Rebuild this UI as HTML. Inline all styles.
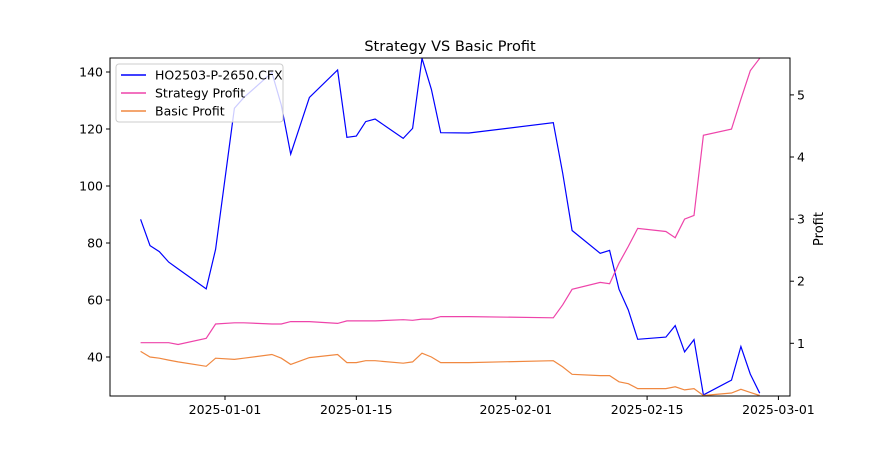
<!DOCTYPE html>
<html><head><meta charset="utf-8"><style>
body{margin:0;background:#fff;}
svg{font-family:"DejaVu Sans","Liberation Sans",sans-serif;}
</style></head><body>
<svg id="chart" width="878" height="450" xmlns="http://www.w3.org/2000/svg"></svg>
<script>
const dates=["2024-12-23","2024-12-24","2024-12-25","2024-12-26","2024-12-27","2024-12-30","2024-12-31","2025-01-02","2025-01-03","2025-01-06","2025-01-07","2025-01-08","2025-01-10","2025-01-13","2025-01-14","2025-01-15","2025-01-16","2025-01-17","2025-01-20","2025-01-21","2025-01-22","2025-01-23","2025-01-24","2025-01-27","2025-02-05","2025-02-06","2025-02-07","2025-02-10","2025-02-11","2025-02-12","2025-02-13","2025-02-14","2025-02-17","2025-02-18","2025-02-19","2025-02-20","2025-02-21","2025-02-24","2025-02-25","2025-02-26","2025-02-27"];
const optionPrice=[88.3,79.1,77,73.3,70.9,63.9,77.8,127.3,131,139.8,128.4,111.2,131.1,140.7,117.1,117.5,122.6,123.5,116.7,120.2,144.8,133.9,118.7,118.6,122.2,104.5,84.4,76.4,77.4,63.8,56.5,46.2,47,51,41.8,46.1,26.7,31.9,43.7,34,27.3];
const strategyProfit=[1.01,1.01,1.01,1.01,0.98,1.08,1.31,1.33,1.33,1.31,1.31,1.35,1.35,1.32,1.36,1.36,1.36,1.36,1.38,1.37,1.39,1.39,1.43,1.43,1.41,1.62,1.87,1.98,1.96,2.29,2.56,2.85,2.80,2.70,3.0,3.06,4.35,4.45,4.93,5.39,5.59];
const basicProfit=[0.87,0.78,0.76,0.73,0.70,0.63,0.76,0.74,0.76,0.82,0.76,0.66,0.77,0.82,0.69,0.69,0.72,0.72,0.68,0.70,0.84,0.78,0.69,0.69,0.72,0.62,0.50,0.48,0.48,0.38,0.35,0.27,0.27,0.30,0.25,0.27,0.16,0.20,0.26,0.21,0.16];
const leftTicks=[40,60,80,100,120,140];
const rightTicks=[1,2,3,4,5];
const xTickLabels=["2025-01-01","2025-01-15","2025-02-01","2025-02-15","2025-03-01"];

const NS="http://www.w3.org/2000/svg";
const svg=document.getElementById('chart');
const L=110,R=790,T=58,B=396;
const base=Date.UTC(2025,0,1);
function dayOf(s){const p=s.split('-');return (Date.UTC(+p[0],p[1]-1,+p[2])-base)/86400000;}
function xs(s){return 225+9.38*dayOf(s);}
function yl(v){return 357-(v-40)*2.85;}
function yr(v){return 405.4-v*62.1;}
function mk(tag,attrs,parent){const e=document.createElementNS(NS,tag);for(const k in attrs)e.setAttribute(k,attrs[k]);(parent||svg).appendChild(e);return e;}

const title=mk('text',{x:450,y:51,'text-anchor':'middle','font-size':14.5,fill:'#000'});
title.textContent='Strategy VS Basic Profit';



function line(vals,fy,color,name){
  const pts=vals.map((v,i)=>xs(dates[i]).toFixed(1)+','+fy(v).toFixed(1)).join(' ');
  const p=mk('polyline',{points:pts,fill:'none',stroke:color,'stroke-width':1.2});
  
  
}
line(optionPrice,yl,'#0000ff','option-price-line');
line(strategyProfit,yr,'#ee44aa','strategy-profit-line');
line(basicProfit,yr,'#f08840','basic-profit-line');

const frame=mk('rect',{x:L,y:T,width:R-L,height:B-T,fill:'none',stroke:'#000','stroke-width':1});



leftTicks.forEach(v=>{
  const y=yl(v);
  const t=mk('line',{x1:L-4,x2:L,y1:y,y2:y,stroke:'#000'});
  
  
  const tx=mk('text',{x:L-7,y:y+4.5,'text-anchor':'end','font-size':12.5});
  tx.textContent=v;
  
  
});
rightTicks.forEach(v=>{
  const y=yr(v);
  const t=mk('line',{x1:R,x2:R+4,y1:y,y2:y,stroke:'#000'});
  
  
  const tx=mk('text',{x:R+7,y:y+4.5,'font-size':12.5});
  tx.textContent=v;
  
  
});
xTickLabels.forEach(s=>{
  const x=xs(s);
  const t=mk('line',{x1:x,x2:x,y1:B,y2:B+4,stroke:'#000'});
  
  
  const tx=mk('text',{x:x,y:B+18,'text-anchor':'middle','font-size':12.5});
  tx.textContent=s;
  
  
});
const yt=mk('text',{x:0,y:0,transform:'translate(823,229) rotate(-90)','text-anchor':'middle','font-size':13});
yt.textContent='Profit';



const lg=mk('g',{});


mk('rect',{x:116,y:64,width:167,height:58,rx:3,fill:'#fff','fill-opacity':0.8,stroke:'#ccc'},lg);
const entries=[['HO2503-P-2650.CFX','#0000ff'],['Strategy Profit','#ee44aa'],['Basic Profit','#f08840']];
entries.forEach((e,i)=>{
  const y=75+i*18;
  const g=mk('g',{},lg);
  
  
  mk('line',{x1:121,x2:146,y1:y,y2:y,stroke:e[1],'stroke-width':1.5},g);
  const tx=mk('text',{x:155,y:y+4.5,'font-size':12.5},g);
  tx.textContent=e[0];
});
</script>
</body></html>
